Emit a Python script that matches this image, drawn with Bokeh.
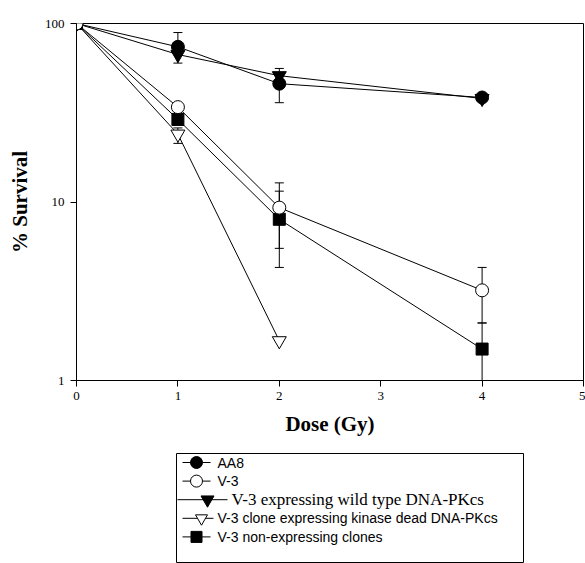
from bokeh.plotting import figure
from bokeh.models import Range1d, FixedTicker, PrintfTickFormatter
from bokeh.core.properties import value
from bokeh.embed import file_html
from bokeh.resources import INLINE

# ---- data ----
dose = [0, 1, 2, 4]
aa8 = [100, 74, 46, 38.5]
v3 = [100, 34, 9.3, 3.2]
wt = [100, 67, 51, 38]
kd_dose = [0, 1, 2]
kd = [100, 24, 1.67]
nonexp = [100, 29, 8, 1.5]

aa8_err_x = [1, 2]
aa8_err_lo = [60, 36]
aa8_err_hi = [89, 56]
v3_err_x = [2, 4]
v3_err_lo = [5.5, 2.1]
v3_err_hi = [12.8, 4.3]
kd_err_x = [1]
kd_err_lo = [21.3]
kd_err_hi = [26]
ne_err_x = [2, 4]
ne_err_lo = [4.3, 0.8]
ne_err_hi = [11.5, 2.1]

x_ticks = [0, 1, 2, 3, 4, 5]
y_ticks = [1, 10, 100]

labels = ["AA8", "V-3", "V-3 expressing wild type DNA-PKcs",
          "V-3 clone expressing kinase dead DNA-PKcs", "V-3 non-expressing clones"]

SERIF = "Liberation Serif"
SANS = "Liberation Sans"

p = figure(width=585, height=453, y_axis_type="log",
           x_range=Range1d(0, 5), y_range=Range1d(1, 100),
           output_backend="svg", toolbar_location=None,
           min_border_left=76, min_border_right=2, min_border_top=23, min_border_bottom=73)
p.xgrid.visible = False
p.ygrid.visible = False
p.outline_line_color = "black"
p.outline_line_width = 1
p.background_fill_color = "white"
p.border_fill_color = "white"

p.xaxis.ticker = FixedTicker(ticks=x_ticks, minor_ticks=[])
p.yaxis.ticker = FixedTicker(ticks=y_ticks, minor_ticks=[])
p.yaxis.formatter = PrintfTickFormatter(format="%d")
for ax in (p.xaxis, p.yaxis):
    ax.major_tick_out = 6
    ax.major_tick_in = 0
    ax.minor_tick_out = 0
    ax.minor_tick_in = 0
    ax.axis_line_color = "black"
    ax.major_tick_line_color = "black"
    ax.major_label_text_font = SERIF
    ax.major_label_text_font_size = "13px"
    ax.major_label_text_color = "black"
    ax.axis_label_text_font = SERIF
    ax.axis_label_text_font_style = "bold"
    ax.axis_label_text_font_size = "21px"
    ax.axis_label_text_color = "black"
p.xaxis.axis_label = "Dose (Gy)"
p.yaxis.axis_label = "% Survival"
p.xaxis.major_label_standoff = 5
p.xaxis.axis_label_standoff = 9
p.yaxis.major_label_standoff = 6
p.yaxis.axis_label_standoff = 10

# lines
p.line(dose, aa8, line_color="black", line_width=1)
p.line(dose, v3, line_color="black", line_width=1)
p.line(dose, wt, line_color="black", line_width=1)
p.line(kd_dose, kd, line_color="black", line_width=1)
p.line(dose, nonexp, line_color="black", line_width=1)

# error bars
for ex, lo, hi in [(aa8_err_x, aa8_err_lo, aa8_err_hi), (v3_err_x, v3_err_lo, v3_err_hi),
                   (kd_err_x, kd_err_lo, kd_err_hi), (ne_err_x, ne_err_lo, ne_err_hi)]:
    p.segment(x0=ex, y0=lo, x1=ex, y1=hi, line_color="black", line_width=1)
    p.scatter(ex, lo, marker="dash", size=9, line_color="black")
    p.scatter(ex, hi, marker="dash", size=9, line_color="black")

# markers
p.scatter(dose, wt, marker="inverted_triangle", size=14, fill_color="black", line_color="black")
p.scatter(dose, aa8, marker="circle", size=13, fill_color="black", line_color="black")
p.scatter(kd_dose, kd, marker="inverted_triangle", size=14, fill_color="white", line_color="black")
p.scatter(dose, nonexp, marker="square", size=12, fill_color="black", line_color="black")
p.scatter(dose, v3, marker="circle", size=13, fill_color="white", line_color="black")

# ---- legend panel ----
lg = figure(width=585, height=110, x_range=Range1d(0, 347), y_range=Range1d(110, 0),
            output_backend="svg", toolbar_location=None,
            min_border_left=176, min_border_right=62, min_border_top=0, min_border_bottom=0)
lg.axis.visible = False
lg.xgrid.visible = False
lg.ygrid.visible = False
lg.outline_line_color = "black"
lg.outline_line_width = 1

markers = ["circle", "circle", "inverted_triangle", "inverted_triangle", "square"]
fills = ["black", "white", "black", "white", "black"]
sizes = [12, 12, 13, 12, 11]
fonts = [SANS, SANS, SERIF, SANS, SANS]
fsizes = ["14px", "14px", "17px", "14px", "14px"]
line_x0 = [6, 6, 1, 6, 6]
line_x1 = [34, 34, 51, 37, 34]
mark_x = [20, 20, 31, 25, 20]
text_x = [41, 41, 55, 41, 41]
row_y = [9 + 18.6 * i for i in range(len(labels))]

for i, lab in enumerate(labels):
    lg.segment(x0=[line_x0[i]], y0=[row_y[i]], x1=[line_x1[i]], y1=[row_y[i]],
               line_color="black", line_width=1)
    lg.scatter([mark_x[i]], [row_y[i]], marker=markers[i], size=sizes[i],
               fill_color=fills[i], line_color="black")
    lg.text([text_x[i]], [row_y[i]], text=[lab], text_font=value(fonts[i]),
            text_font_size=fsizes[i], text_baseline="middle", text_align="left",
            text_color="black")

open("out.html", "w").write(file_html([p, lg], INLINE))
